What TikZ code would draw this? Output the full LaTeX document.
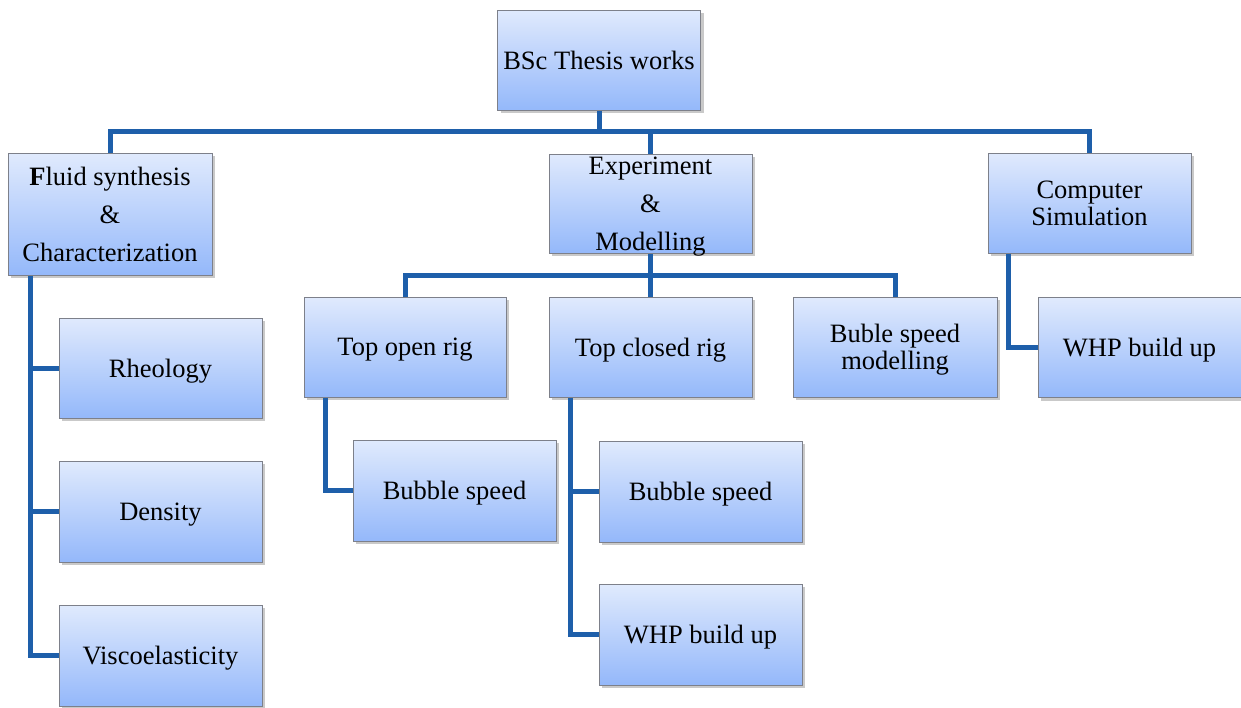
\documentclass[tikz,border=0pt]{standalone}
\usepackage{fontspec}
\setmainfont{Liberation Serif}
\usetikzlibrary{shadows}
\definecolor{conncol}{RGB}{30,95,170}
\definecolor{boxtop}{RGB}{224,234,253}
\definecolor{boxbot}{RGB}{148,184,250}
\definecolor{boxedge}{RGB}{125,128,138}
\begin{document}
\begin{tikzpicture}[x=1pt,y=-1pt,
  box/.style={draw=boxedge, line width=1pt, top color=boxtop, bottom color=boxbot,
    minimum width=203pt, minimum height=100pt, inner xsep=2pt, inner ysep=0pt,
    align=center, text depth=0pt, font=\fontsize{26.5}{38}\selectfont,
    drop shadow={shadow xshift=3pt, shadow yshift=-3pt, opacity=0.3, fill=black!70}},
  tight/.style={font=\fontsize{26.5}{27}\selectfont},
  conn/.style={draw=conncol, line width=5pt, line join=miter}]
\useasboundingbox (0,0) rectangle (1241,707);
\coordinate (bus) at (600,131);
\coordinate (ebus) at (650,275);
\coordinate (fl) at (30,0);
\coordinate (ol) at (325,0);
\coordinate (cl) at (570,0);
\coordinate (sl) at (1008,0);
% boxes
\node[box] (bsc) at (599,60) {BSc Thesis works};
\node[box, minimum width=204pt, minimum height=122pt] (fluid) at (110,214) {\textbf{F}luid synthesis\\ \&\\ Characterization};
\node[box, minimum height=99pt] (exp) at (650.5,203.5) {Experiment\\ \&\\ Modelling};
\node[box, tight] (comp) at (1089.5,203) {Computer\\ Simulation};
\node[box] (rheo) at (160.5,368) {Rheology};
\node[box, minimum height=101pt] (dens) at (160.5,511.5) {Density};
\node[box, minimum height=101pt] (visc) at (160.5,655.5) {Viscoelasticity};
\node[box, minimum width=202pt] (topen) at (405,347) {Top open rig};
\node[box] (tclosed) at (650.5,347) {Top closed rig};
\node[box, minimum width=204pt, tight] (buble) at (895,347) {Buble speed\\ modelling};
\node[box, minimum height=101pt] (bs1) at (454.5,490.5) {Bubble speed};
\node[box, minimum height=101pt] (bs2) at (700.5,491.5) {Bubble speed};
\node[box, minimum height=101pt] (whp2) at (700.5,634.5) {WHP build up};
\node[box] (whp1) at (1139.5,347.5) {WHP build up};
% connectors
\draw[conn] (bsc.south) -- (bsc.south |- bus);
\draw[conn] (fluid.north) -- (fluid.north |- bus) -- (comp.north |- bus) -- (comp.north);
\draw[conn] (exp.north) -- (exp.north |- bus);
\draw[conn] (exp.south) -- (tclosed.north);
\draw[conn] (topen.north) -- (topen.north |- ebus) -- (buble.north |- ebus) -- (buble.north);
\draw[conn] (fluid.south -| fl) -- (visc.west -| fl) -- (visc.west);
\draw[conn] (rheo.west -| fl) -- (rheo.west);
\draw[conn] (dens.west -| fl) -- (dens.west);
\draw[conn] (topen.south -| ol) -- (bs1.west -| ol) -- (bs1.west);
\draw[conn] (tclosed.south -| cl) -- (whp2.west -| cl) -- (whp2.west);
\draw[conn] (bs2.west -| cl) -- (bs2.west);
\draw[conn] (comp.south -| sl) -- (whp1.west -| sl) -- (whp1.west);
\end{tikzpicture}
\end{document}
